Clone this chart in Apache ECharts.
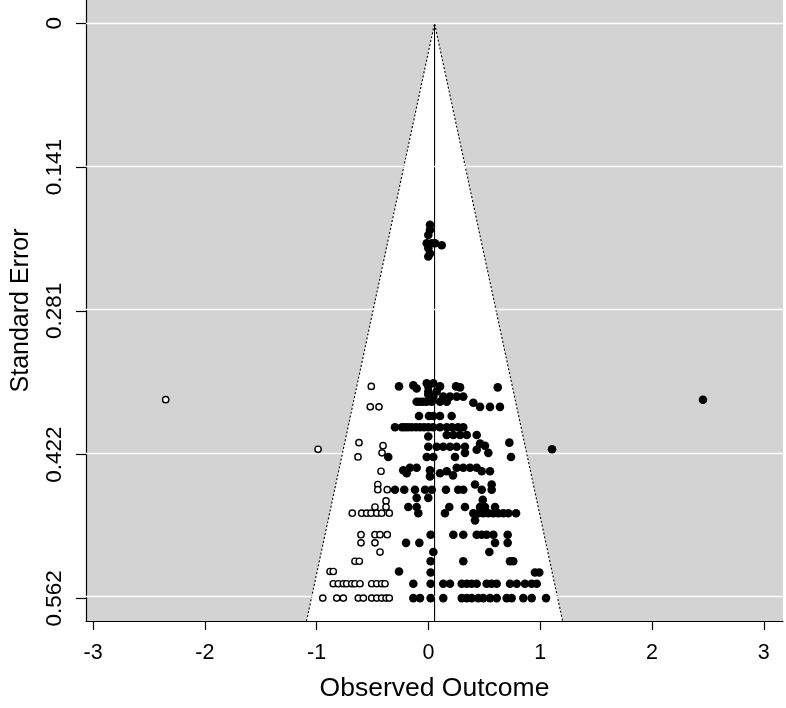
<!DOCTYPE html>
<html><head><meta charset="utf-8">
<script src="https://cdn.jsdelivr.net/npm/echarts@6/dist/echarts.min.js"></script>
<style>html,body{margin:0;padding:0;background:#fff}#c{width:786px;height:708px}</style>
</head><body><div id="c"></div>
<script>
// ---- data ----
const estimate = 0.055;
const zCrit = 1.96;
const xRange = [-3.063, 3.172];
const seRange = [-0.0228, 0.5844];
const xTicks = [-3, -2, -1, 0, 1, 2, 3];
const seTicks = [0, 0.14055, 0.2811, 0.42165, 0.5622];
const seTickLabels = ['0', '0.141', '0.281', '0.422', '0.562'];

// observed studies [effect, standard error]
const observed = [
 [0.014,0.197],[0.014,0.202],[-0.001,0.207],[-0.015,0.215],[0.030,0.215],[0.059,0.215],[0.119,0.217],[-0.001,0.220],[0.014,0.225],[-0.001,0.228],
 [-0.263,0.355],[-0.135,0.354],[-0.105,0.357],[-0.015,0.352],[-0.001,0.355],[0.044,0.352],[0.104,0.355],[0.074,0.360],[-0.001,0.360],[0.247,0.355],[0.283,0.356],[0.620,0.356],
 [-0.001,0.363],[0.044,0.365],[0.133,0.365],[0.193,0.365],[0.253,0.365],[0.312,0.365],
 [-0.105,0.370],[-0.075,0.370],[-0.046,0.370],[-0.015,0.370],[0.030,0.370],[0.104,0.370],[0.164,0.370],[0.402,0.371],
 [0.462,0.375],[0.551,0.375],[0.640,0.375],
 [-0.084,0.384],[0.005,0.384],[0.044,0.384],[0.104,0.384],[0.208,0.384],
 [-0.299,0.395],[-0.236,0.395],[-0.209,0.395],[-0.182,0.395],[-0.149,0.395],[-0.111,0.395],[-0.075,0.395],[-0.039,0.395],[-0.001,0.395],[0.041,0.395],[0.104,0.395],[0.164,0.395],[0.211,0.395],[0.265,0.395],[0.312,0.395],
 [-0.001,0.404],[0.164,0.4025],[0.223,0.4025],[0.283,0.4025],[0.343,0.4025],[0.432,0.4025],
 [0.462,0.411],[0.506,0.413],[0.724,0.410],[0.074,0.414],[0.133,0.414],[0.193,0.414],[0.253,0.414],[0.327,0.414],[-0.001,0.414],
 [1.106,0.4165],[2.456,0.368],
 [0.432,0.417],[0.327,0.420],[0.536,0.420],[0.739,0.424],[0.238,0.424],[0.044,0.424],[-0.015,0.424],[-0.359,0.424],
 [-0.225,0.437],[-0.165,0.4345],[-0.105,0.4345],[-0.194,0.440],[0.014,0.437],[0.014,0.443],[0.253,0.4345],[0.312,0.4345],[0.372,0.4345],[0.432,0.4345],[0.477,0.438],[0.551,0.438],[0.104,0.440],[0.164,0.438],[0.220,0.442],
 [0.417,0.451],[0.566,0.451],[-0.299,0.456],[-0.216,0.456],[-0.120,0.456],[-0.030,0.456],[0.030,0.456],[0.157,0.456],[0.267,0.456],[0.312,0.456],[0.477,0.456],[0.566,0.456],
 [-0.105,0.464],[-0.001,0.464],[0.486,0.466],
 [-0.180,0.473],[-0.105,0.473],[0.187,0.473],[0.327,0.473],[0.462,0.473],[0.506,0.473],[0.596,0.473],
 [-0.090,0.479],[0.148,0.479],[0.402,0.479],[0.446,0.479],[0.491,0.479],[0.536,0.479],[0.581,0.479],[0.625,0.479],[0.670,0.479],[0.715,0.479],[0.784,0.479],[0.417,0.486],
 [0.020,0.500],[0.223,0.500],[0.312,0.500],[0.432,0.500],[0.477,0.500],[0.521,0.500],[0.581,0.500],[0.709,0.500],
 [-0.200,0.508],[-0.081,0.508],[0.596,0.508],[0.709,0.508],
 [0.044,0.517],[0.545,0.517],
 [0.020,0.526],[0.312,0.526],[0.730,0.526],[0.759,0.526],
 [-0.263,0.536],[0.020,0.537],[0.953,0.537],[0.992,0.537],
 [-0.135,0.548],[0.020,0.548],[0.133,0.548],[0.193,0.548],[0.298,0.548],[0.343,0.548],[0.387,0.548],[0.432,0.548],[0.521,0.548],[0.566,0.548],[0.611,0.548],[0.730,0.548],[0.790,0.548],[0.864,0.548],[0.924,0.548],[0.969,0.548],
 [-0.135,0.562],[-0.075,0.562],[0.020,0.562],[0.133,0.562],[0.298,0.562],[0.343,0.562],[0.387,0.562],[0.446,0.562],[0.491,0.562],[0.551,0.562],[0.611,0.562],[0.700,0.562],[0.745,0.562],[0.849,0.562],[0.924,0.562],[1.052,0.562]
];

// imputed (filled-in) studies [effect, standard error]
const imputed = [
 [-2.350,0.368],[-0.511,0.355],[-0.520,0.375],[-0.442,0.375],[-0.621,0.410],[-0.406,0.413],[-0.987,0.4165],[-0.630,0.424],[-0.415,0.420],[-0.424,0.438],
 [-0.453,0.451],[-0.453,0.456],[-0.368,0.456],[-0.379,0.467],[-0.379,0.473],[-0.478,0.473],
 [-0.681,0.479],[-0.597,0.479],[-0.552,0.479],[-0.513,0.479],[-0.462,0.479],[-0.418,0.479],[-0.350,0.479],
 [-0.603,0.500],[-0.478,0.500],[-0.433,0.500],[-0.368,0.500],
 [-0.603,0.508],[-0.478,0.508],
 [-0.433,0.517],
 [-0.657,0.526],[-0.618,0.526],
 [-0.880,0.536],[-0.851,0.536],
 [-0.851,0.548],[-0.806,0.548],[-0.761,0.548],[-0.731,0.548],[-0.686,0.548],[-0.657,0.548],[-0.612,0.548],[-0.507,0.548],[-0.462,0.548],[-0.418,0.548],[-0.388,0.548],
 [-0.945,0.562],[-0.820,0.562],[-0.761,0.562],[-0.627,0.562],[-0.582,0.562],[-0.507,0.562],[-0.462,0.562],[-0.418,0.562],[-0.379,0.562],[-0.350,0.562]
];

// ---- chart ----
const seMax = seRange[1];
const funnelLeft = [estimate - zCrit * seMax, seMax];
const funnelRight = [estimate + zCrit * seMax, seMax];
const font = 'Liberation Sans, Arial, Helvetica, sans-serif';

function nearestLabel(v) {
  let best = 0;
  for (let i = 1; i < seTicks.length; i++) if (Math.abs(seTicks[i] - v) < Math.abs(seTicks[best] - v)) best = i;
  return seTickLabels[best];
}

const chart = echarts.init(document.getElementById('c'), null, { renderer: 'canvas' });
chart.setOption({
  animation: false,
  backgroundColor: '#ffffff',
  grid: { left: 86, right: 3, top: 0, bottom: 87, show: true, backgroundColor: '#d3d3d3', borderWidth: 0 },
  xAxis: {
    type: 'value', min: xRange[0], max: xRange[1],
    axisLine: { show: true, onZero: false, lineStyle: { color: '#000', width: 1.2 } },
    axisTick: { show: true, customValues: xTicks, length: 9, lineStyle: { color: '#000', width: 1.2 } },
    axisLabel: { customValues: xTicks, fontSize: 21.5, color: '#000', fontFamily: font, margin: 21,
      formatter: v => String(Math.round(v)) },
    splitLine: { show: false },
    name: 'Observed Outcome', nameLocation: 'middle', nameGap: 54,
    nameTextStyle: { fontSize: 26.5, color: '#000', fontFamily: font }
  },
  yAxis: {
    type: 'value', inverse: true, min: seRange[0], max: seRange[1],
    axisLine: { show: true, onZero: false, lineStyle: { color: '#000', width: 1.2 } },
    axisTick: { show: true, customValues: seTicks, length: 10, lineStyle: { color: '#000', width: 1.2 } },
    axisLabel: { customValues: seTicks, rotate: 90, fontSize: 22.5, color: '#000', fontFamily: font, margin: 20,
      formatter: v => nearestLabel(v) },
    splitLine: { show: false },
    name: 'Standard Error', nameLocation: 'middle', nameRotate: 90, nameGap: 52,
    nameTextStyle: { fontSize: 25, color: '#000', fontFamily: font }
  },
  series: [
    { // white gridlines
      type: 'line', data: [], z: 1, silent: true,
      markLine: { silent: true, symbol: 'none', label: { show: false },
        lineStyle: { color: '#ffffff', width: 1.3, type: 'solid' },
        data: seTicks.map(v => ({ yAxis: v })) }
    },
    { // white funnel region
      type: 'custom', z: 2, silent: true, data: [[estimate, 0]],
      renderItem: function (params, api) {
        const a = api.coord([estimate, 0]);
        const l = api.coord(funnelLeft);
        const r = api.coord(funnelRight);
        return { type: 'polygon', shape: { points: [a, l, r] }, style: { fill: '#ffffff' } };
      }
    },
    { // funnel edges
      type: 'line', z: 3, silent: true, showSymbol: false, symbol: 'none',
      data: [funnelLeft, [estimate, 0], funnelRight],
      lineStyle: { color: '#000', width: 1.1, type: [2, 2] }
    },
    { // estimate line
      type: 'line', z: 3, silent: true, showSymbol: false, symbol: 'none',
      data: [[estimate, 0], [estimate, seMax]],
      lineStyle: { color: '#000', width: 1.1, type: 'solid' }
    },
    {
      type: 'scatter', z: 5, data: observed, symbol: 'circle', symbolSize: 8.6,
      itemStyle: { color: '#000', opacity: 1 }
    },
    {
      type: 'scatter', z: 6, data: imputed, symbol: 'circle', symbolSize: 6.3,
      itemStyle: { color: '#fff', borderColor: '#000', borderWidth: 1.4, opacity: 1 }
    }
  ]
});
</script></body></html>
